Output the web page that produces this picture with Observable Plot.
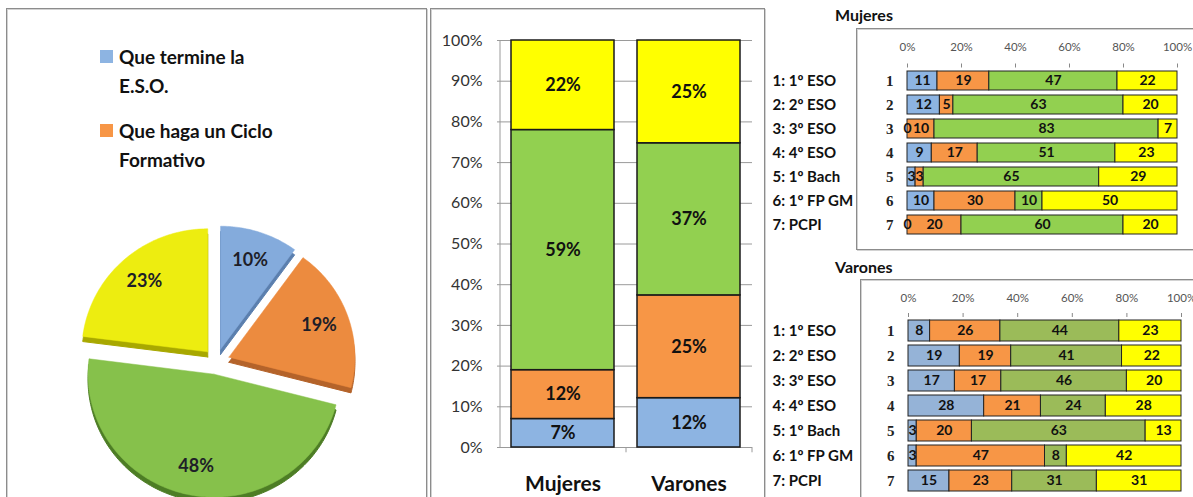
<!DOCTYPE html>
<html>
<head>
<meta charset="utf-8">
<script src="https://cdn.jsdelivr.net/npm/d3@7"></script>
<script src="https://cdn.jsdelivr.net/npm/@observablehq/plot@0.6"></script>
<style>
  html, body { margin: 0; padding: 0; }
  body { width: 1193px; height: 497px; overflow: hidden; background: #fff; position: relative; font-family: Lato, "Open Sans", sans-serif; color: #111; }
  .panel { position: absolute; border: 1px solid #8c8c8c; box-shadow: inset 1px 1px 0 #d2d2d2, 1px 1px 0 #d2d2d2; background: transparent; }
  .legend-item { position: absolute; font-weight: bold; font-size: 19px; line-height: 29px; color: #111; }
  .swatch { position: absolute; width: 13px; height: 13px; }
  .title { position: absolute; font-weight: bold; font-size: 16px; color: #111; }
</style>
</head>
<body>
<div class="panel" style="left:6px; top:8px; width:419px; height:520px;"></div>
<div class="panel" style="left:430px; top:8px; width:333px; height:520px;"></div>
<div class="panel" style="left:856px; top:28px; width:400px; height:220px;"></div>
<div class="panel" style="left:860px; top:279px; width:400px; height:300px;"></div>

<div class="swatch" style="left:100px; top:50px; background:#8db4e2;"></div>
<div class="legend-item" style="left:119px; top:42px;">Que termine la<br>E.S.O.</div>
<div class="swatch" style="left:100px; top:124px; background:#f79646;"></div>
<div class="legend-item" style="left:119px; top:116px;">Que haga un Ciclo<br>Formativo</div>

<div class="title" style="left:835px; top:5px;">Mujeres</div>
<div class="title" style="left:835px; top:257px;">Varones</div>

<script>
// ---------- data ----------
const seriesKeys = ["Que termine la E.S.O.", "Que haga un Ciclo Formativo", "Serie 3", "Serie 4"];

// pie (overall)
const pieValues = [10, 19, 48, 23];

// stacked columns
const groups = ["Mujeres", "Varones"];
const mujeresTotals = [7, 12, 59, 22];
const varonesTotals = [12, 25, 37, 25];
const yTicks = [0, 0.1, 0.2, 0.3, 0.4, 0.5, 0.6, 0.7, 0.8, 0.9, 1];

// per-level bars
const levelCodes = ["1", "2", "3", "4", "5", "6", "7"];
const levelLabels = ["1: 1º ESO", "2: 2º ESO", "3: 3º ESO", "4: 4º ESO", "5: 1º Bach", "6: 1º FP GM", "7: PCPI"];
const xTicks = [0, 0.2, 0.4, 0.6, 0.8, 1];

const mujeresBlue   = [11, 12, 0, 9, 3, 10, 0];
const mujeresOrange = [19, 5, 10, 17, 3, 30, 20];
const mujeresGreen  = [47, 63, 83, 51, 65, 10, 60];
const mujeresYellow = [22, 20, 7, 23, 29, 50, 20];

const varonesBlue   = [8, 19, 17, 28, 3, 3, 15];
const varonesOrange = [26, 19, 17, 21, 20, 47, 23];
const varonesGreen  = [44, 41, 46, 24, 63, 8, 31];
const varonesYellow = [23, 22, 20, 28, 13, 42, 31];

// colours
const pieColors = ["#84abdc", "#ec8b3f", "#86c14b", "#eded10"];
const pieDark   = ["#5b7fae", "#b4632a", "#4d7d25", "#a8a800"];
const midColors = ["#8db4e2", "#f79646", "#92d050", "#ffff00"];
const mujColors = ["#8db4e2", "#f79646", "#92d050", "#ffff00"];
const varColors = ["#95b3d7", "#f79646", "#9bbb59", "#ffff00"];

function place(el, left, top) {
  el.style.position = "absolute";
  el.style.left = left + "px";
  el.style.top = top + "px";
  document.body.appendChild(el);
}

// ---------- pie ----------
const EXP = 0.105, DEPTH = 0.042;
const total = d3.sum(pieValues);
let acc = 0;
const slices = pieValues.map((v, i) => {
  const a0 = acc / total * 2 * Math.PI; acc += v;
  const a1 = acc / total * 2 * Math.PI;
  return { i, v, a0, a1, mid: (a0 + a1) / 2 };
});
function slicePts(s, dy, color) {
  const ex = EXP * Math.sin(s.mid), ey = -EXP * Math.cos(s.mid) + dy;
  const pts = [{ x: ex, y: ey }];
  const n = Math.max(4, Math.ceil((s.a1 - s.a0) / (Math.PI / 180)));
  for (let j = 0; j <= n; j++) {
    const a = s.a0 + (s.a1 - s.a0) * j / n;
    pts.push({ x: ex + Math.sin(a), y: ey - Math.cos(a) });
  }
  pts.push({ x: ex, y: ey });
  return pts.map(p => ({ ...p, key: s.i + (dy ? "d" : "t"), color }));
}
const depthPts = slices.flatMap(s => slicePts(s, DEPTH, pieDark[s.i]));
const topPts = slices.flatMap(s => slicePts(s, 0, pieColors[s.i]));
const pieLabels = slices.map(s => ({
  x: (EXP + 0.76) * Math.sin(s.mid),
  y: -(EXP + 0.76) * Math.cos(s.mid),
  text: s.v + "%"
}));

const pie = Plot.plot({
  width: 420, height: 297, margin: 0,
  x: { domain: [-216 / 126, 204 / 126], range: [0, 420], axis: null },
  y: { domain: [-161 / 123, 136 / 123], range: [0, 297], axis: null },
  style: { background: "transparent", fontFamily: "Lato, sans-serif", overflow: "visible" },
  marks: [
    Plot.line(depthPts, { x: "x", y: "y", z: "key", fill: "color", stroke: "color", strokeWidth: 1 }),
    Plot.line(topPts, { x: "x", y: "y", z: "key", fill: "color", stroke: "color", strokeWidth: 0.5 }),
    Plot.text(pieLabels, { x: "x", y: "y", text: "text", fontSize: 18, fontWeight: "bold", fill: "#1e1e28" })
  ]
});
place(pie, 0, 200);

// ---------- stacked columns ----------
const colRows = groups.flatMap((g, gi) => seriesKeys.map((k, ki) => ({
  group: g, key: k, value: (gi === 0 ? mujeresTotals : varonesTotals)[ki]
})));

const cols = Plot.plot({
  width: 333, height: 488,
  marginLeft: 70, marginRight: 11, marginTop: 31, marginBottom: 50,
  x: { domain: groups, paddingInner: 0.18, paddingOuter: 0.09, label: null },
  y: { domain: [0, 1], label: null },
  color: { domain: seriesKeys, range: midColors },
  style: { background: "transparent", fontFamily: "Lato, sans-serif", overflow: "visible" },
  marks: [
    Plot.gridY(yTicks, { stroke: "#9a9a9a", strokeOpacity: 1 }),
    Plot.axisY(yTicks, { tickFormat: d3.format(".0%"), tickSize: 3, tickPadding: 15, fontSize: 16, stroke: "#9a9a9a", fill: "#333", label: null }),
    Plot.ruleX([groups[0]], { y1: 0, y2: 1, dx: -63, stroke: "#9a9a9a" }),
    Plot.ruleX(groups, { y1: -0.013, y2: 0, dx: 63, stroke: "#9a9a9a" }),
    Plot.ruleY([0], { stroke: "#9a9a9a" }),
    Plot.barY(colRows, Plot.stackY({ offset: "normalize", x: "group", y: "value", z: "key", fill: "key", stroke: "#1a1a1a", strokeWidth: 1.5 })),
    Plot.text(colRows, Plot.stackY({ offset: "normalize", x: "group", y: "value", z: "key", text: d => d.value + "%", fontSize: 18, fontWeight: "bold", fill: "#111" })),
    Plot.axisX({ tickSize: 0, tickPadding: 29, fontSize: 21, fontWeight: "bold", fill: "#111", label: null })
  ]
});
place(cols, 430, 9);

// ---------- per-level charts ----------
function levelChart(series, colors, cfg) {
  const rows = levelCodes.flatMap((c, ri) => seriesKeys.map((k, ki) => ({ row: c, key: k, value: series[ki][ri] })));
  return Plot.plot({
    width: cfg.width, height: cfg.height,
    marginLeft: cfg.ml, marginRight: cfg.mr, marginTop: cfg.mt, marginBottom: cfg.mb,
    x: { domain: [0, 1], label: null },
    y: { domain: levelCodes, paddingInner: cfg.pi, paddingOuter: 0.1, label: null },
    color: { domain: seriesKeys, range: colors },
    style: { background: "transparent", fontFamily: "Lato, sans-serif", overflow: "visible" },
    marks: [
      Plot.axisX(xTicks, { anchor: "top", tickFormat: d3.format(".0%"), tickSize: 4, tickPadding: cfg.tp, fontSize: 11.5, stroke: "#888", fill: "#555", label: null }),
      Plot.axisY({ tickSize: 0, tickPadding: 14, fontSize: 15, fontWeight: "bold", fontFamily: "Liberation Serif, serif", fill: "#222", label: null }),
      Plot.barX(rows, Plot.stackX({ offset: "normalize", y: "row", x: "value", z: "key", fill: "key", stroke: "#222", strokeWidth: 1 })),
      Plot.text(rows, Plot.stackX({ offset: "normalize", y: "row", x: "value", z: "key", text: "value", fontSize: 14, fontWeight: "bold", fill: "#111" })),
      Plot.text(levelCodes, { y: d => d, text: (d, i) => levelLabels[i], frameAnchor: "left", textAnchor: "start", dx: cfg.labelDx, fontSize: 15, fontWeight: "bold", fill: "#111" })
    ]
  });
}

const muj = levelChart([mujeresBlue, mujeresOrange, mujeresGreen, mujeresYellow], mujColors,
  { width: 440, height: 220, ml: 147, mr: 23, mt: 38.5, mb: 8.5, pi: 0.19, tp: 12, labelDx: -135 });
place(muj, 760, 28);

const varo = levelChart([varonesBlue, varonesOrange, varonesGreen, varonesYellow], varColors,
  { width: 440, height: 218, ml: 148, mr: 19, mt: 37, mb: 3, pi: 0.17, tp: 11, labelDx: -136 });
place(varo, 760, 279);
</script>
</body>
</html>
